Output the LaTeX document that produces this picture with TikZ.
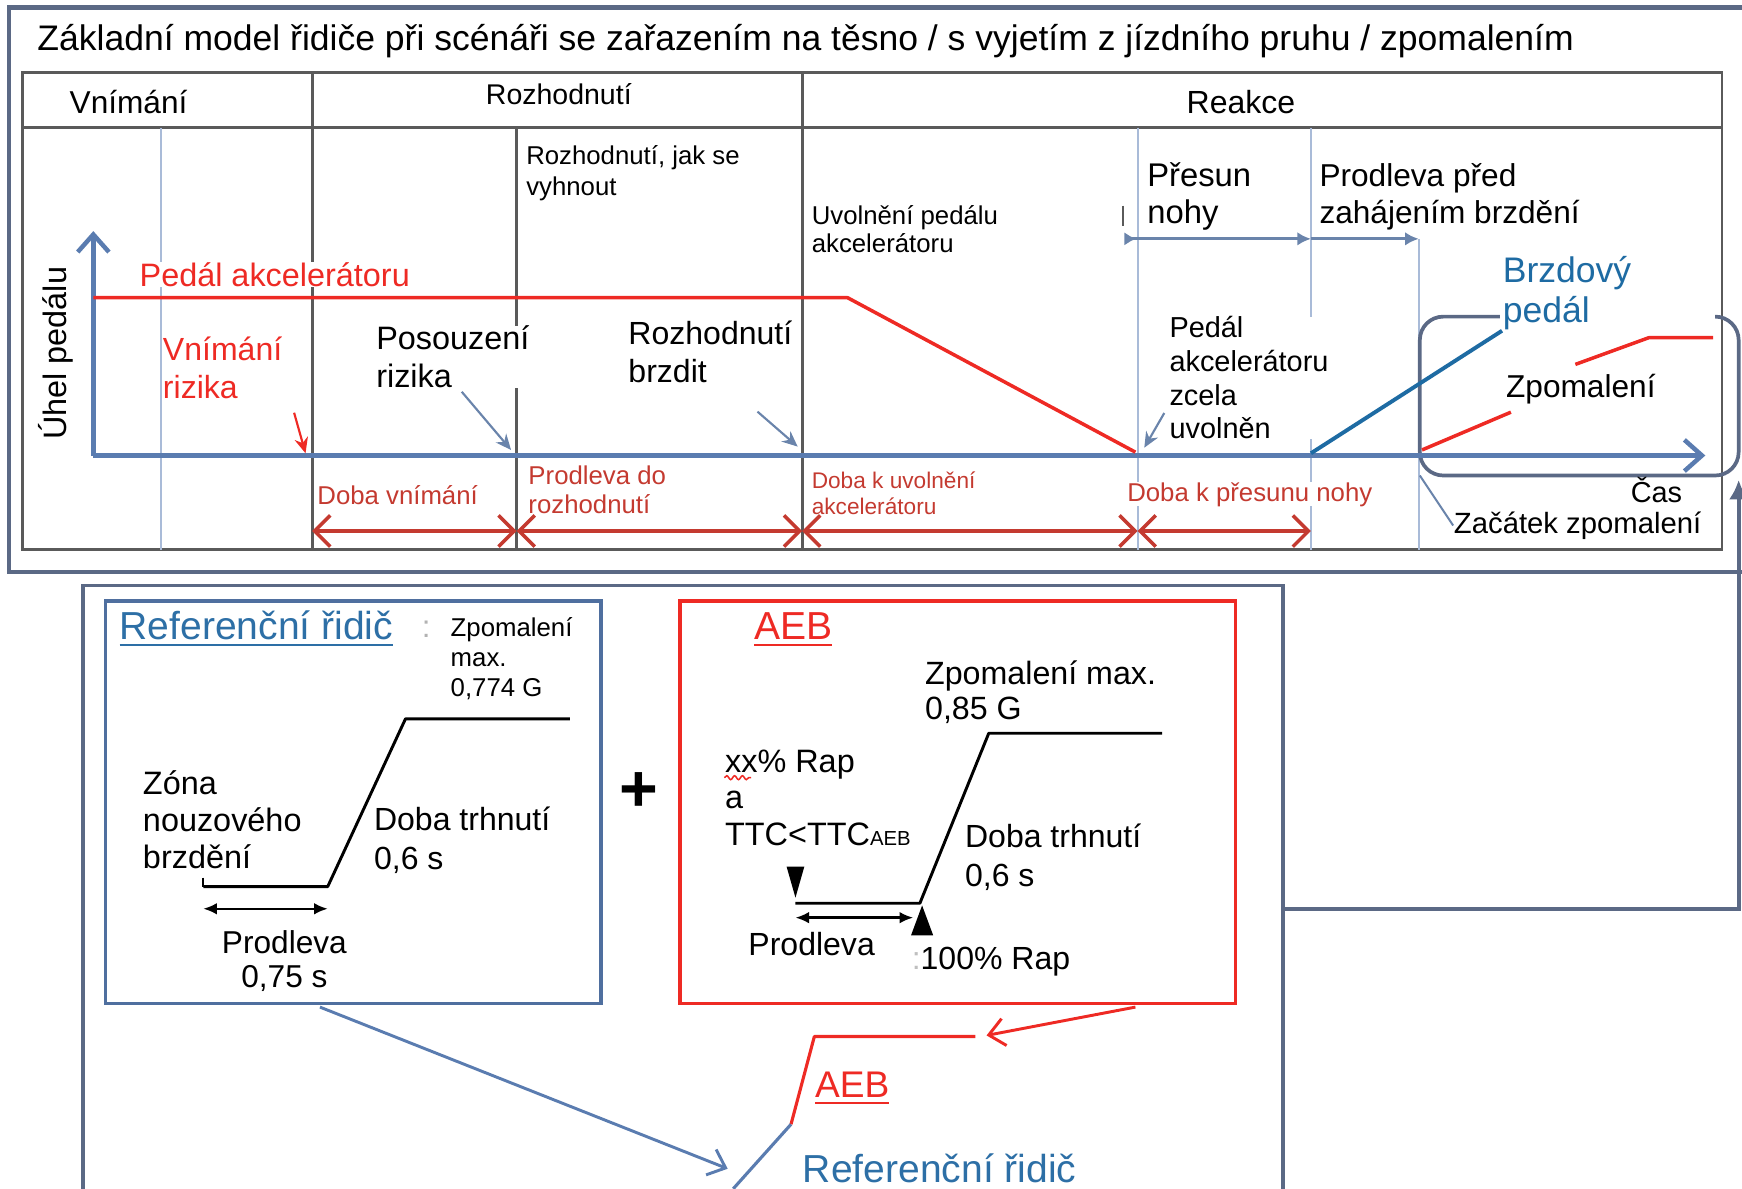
\documentclass[tikz,border=0pt]{standalone}
\usepackage{fontspec}
\setmainfont{Liberation Sans}
\usetikzlibrary{arrows.meta,calc,decorations.pathmorphing}

\definecolor{frameblue}{HTML}{5B6985}
\definecolor{tabgrey}{HTML}{5A5A5A}
\definecolor{sepblue}{HTML}{A9BBD8}
\definecolor{axisblue}{HTML}{5A7CB0}
\definecolor{ptrblue}{HTML}{6A84AB}
\definecolor{pedred}{HTML}{EE2A24}
\definecolor{durred}{HTML}{C43A30}
\definecolor{brakeblue}{HTML}{1E6BA3}
\definecolor{refblue}{HTML}{4F6F9F}
\definecolor{reftext}{HTML}{2D6FA6}

\newcommand\fsz[2]{\fontsize{#1pt}{#2pt}\selectfont}

\begin{document}
\begin{tikzpicture}[
  x=0.1mm, y=-0.1mm,
  lbl/.style={inner sep=0pt, anchor=west, align=left},
  wlbl/.style={lbl, fill=white},
  frm/.style={draw=frameblue, line width=0.95pt},
  grd/.style={draw=tabgrey, line width=0.75pt},
  sep/.style={draw=sepblue, line width=0.45pt},
  axis/.style={draw=axisblue, line width=1.15pt, -{Straight Barb[length=4.5pt,width=8pt]}},
  ptr/.style={draw=ptrblue, line width=0.55pt, -{Stealth[length=4pt,width=3.5pt]}},
  phase/.style={draw=ptrblue, line width=0.7pt, -{Latex[length=3.5pt,width=3.5pt]}},
  dur/.style={draw=durred, line width=0.9pt,
    {Straight Barb[length=4pt,width=8pt]}-{Straight Barb[length=4pt,width=8pt]}},
  pedal/.style={draw=pedred, line width=0.9pt, line join=round},
  profile/.style={draw=black, line width=0.75pt, line join=round},
  link/.style={line width=0.75pt, -{Straight Barb[length=4pt,width=7pt]}},
]
\useasboundingbox (0,0) rectangle (1568,1070);

% ---------------- upper panel: frame, title, table ----------------
\draw[frm, line width=1.2pt] (1568,7) -- (8,7) -- (8,515) -- (1568,515);
\node[lbl, font=\fsz{9.1}{10}] (title) at (33,37)
  {Základní model řidiče při scénáři se zařazením na těsno / s vyjetím z jízdního pruhu / zpomalením};

\draw[grd] (20,65) rectangle (1550,495);
\draw[grd] (20,115) -- (1550,115);
\foreach \x in {281,722} \draw[grd] (\x,65) -- (\x,495);
\draw[grd] (465,115) -- (465,495);
\foreach \x in {145,1024,1180} \draw[sep] (\x,115) -- (\x,495);
\draw[sep] (1277,215) -- (1277,495);

\node[lbl, font=\fsz{8.1}{9}] (hVn) at (62,92) {Vnímání};
\node[font=\fsz{7.3}{9}, inner sep=0pt] (hRo) at (503,85) {Rozhodnutí};
\node[font=\fsz{8.2}{9}, inner sep=0pt] (hRe) at (1117,92) {Reakce};

% ---------------- phase labels in the table ----------------
\node[lbl, font=\fsz{6.6}{8}] (jak) at (473,156) {Rozhodnutí, jak se\\vyhnout};
\node[lbl, font=\fsz{6.6}{7.1}] (uvol) at (730,206) {Uvolnění pedálu\\akcelerátoru};
\node[lbl, font=\fsz{8.4}{9.4}] (presun) at (1032,177) {Přesun\\nohy};
\node[lbl, font=\fsz{8.1}{9.4}] (prodl) at (1187,177) {Prodleva před\\zahájením brzdění};

\coordinate (m0) at (1012,215);
\coordinate (m1) at (1180,215);
\coordinate (m2) at (1277,215);
\draw[phase, {Latex[reversed,length=3pt,width=3.5pt]}-{Latex[length=3.5pt,width=3.5pt]}] (m0) -- (m1);
\draw[phase] (m1) -- (m2);
\draw[tabgrey, line width=0.5pt] (1011,185) -- (1011,203);

% ---------------- chart labels ----------------
\node[wlbl, text=pedred, font=\fsz{8.3}{9}] (accl) at (125,247) {Pedál akcelerátoru};
\node[lbl, text=pedred, font=\fsz{8.2}{9.7}] (vnr) at (146,331) {Vnímání\\rizika};
\node[wlbl, font=\fsz{8.3}{9.7}] (posr) at (338,321) {Posouzení\\rizika};
\node[lbl, font=\fsz{8.2}{9.7}] (rozb) at (565,317) {Rozhodnutí\\brzdit};
\node[wlbl, font=\fsz{7.4}{8.6}] (zcela) at (1052,340) {Pedál\\akcelerátoru\\zcela\\uvolněn};
\node[rotate=90, font=\fsz{8.3}{9}, inner sep=0pt] (uhel) at (50,318) {Úhel pedálu};

% deceleration frame (rounded), partly hidden by the brake label
\coordinate (rrBL) at (1278,428);
\coordinate (rrBR) at (1565,428);
\draw[frm, rounded corners=6pt] (1350,285) -- (1278,285) -- (rrBL) -- (rrBR) -- (1565,285) -- (1545,285);

\node[wlbl, text=brakeblue, font=\fsz{9.1}{10.2}] (brzd) at (1352,264) {Brzdový\\pedál};
\node[lbl, font=\fsz{8.1}{9}] (zpom) at (1355,350) {Zpomalení};
\node[font=\fsz{7.4}{8}, inner sep=0pt] (cas) at (1491,441) {Čas};
\node[lbl, font=\fsz{7.5}{8}] (zac) at (1308,473) {Začátek zpomalení};
\draw[ptrblue, line width=0.5pt] (rrBL) -- (zac.west);

% ---------------- axes and curves ----------------
\coordinate (O) at (84,410);
\draw[axis] (O) -- (84,208);
\draw[axis] (O) -- (1535,410);

\draw[pedal] (84,268) -- (763,268) -- (1022,407);
\draw[brakeblue, line width=1.0pt] (1180,408) -- (brzd.south west);
\draw[pedal] (1280,405) -- (1360,371);
\draw[pedal] (1418,328) -- (1484,304) -- (1542,304);

% pointers to the time axis
\coordinate (aVn) at (275,408);
\coordinate (aPo) at (460,405);
\coordinate (aRo) at (718,402);
\coordinate (aZc) at (1030,403);
\draw[pedred, line width=0.55pt, -{Stealth[length=4pt,width=3.5pt]}] ($(vnr.south east)+(10,12)$) -- (aVn);
\draw[ptr] ($(posr.south)+(8,3)$) -- (aPo);
\draw[ptr] ($(rozb.south east)+(-32,25)$) -- (aRo);
\draw[ptr] ($(zcela.south west)+(-4,-24)$) -- (aZc);

% ---------------- durations below the axis ----------------
\node[lbl, text=durred, font=\fsz{6.6}{7}] (dvn) at (285,446) {Doba vnímání};
\node[lbl, text=durred, font=\fsz{6.6}{7.4}] (dpr) at (475,441) {Prodleva do\\rozhodnutí};
\node[lbl, text=durred, font=\fsz{5.8}{6.8}] (duv) at (730,444) {Doba k uvolnění\\akcelerátoru};
\node[wlbl, text=durred, font=\fsz{6.6}{7}] (dpn) at (1014,445) {Doba k přesunu nohy};

\foreach \x [count=\i] in {281,465,722,1024,1180} \coordinate (d\i) at (\x,478);
\foreach \i/\j in {1/2,2/3,3/4,4/5} \draw[dur] (d\i) -- (d\j);

% ---------------- lower panel ----------------
\draw[frm] (75,1070) -- (75,527) -- (1155,527) -- (1155,1070);
\coordinate (fbR) at (1155,818);
\draw[frm, -{Latex[length=5pt,width=5pt]}] (fbR) -- (fbR -| rrBR) -- ($(rrBR)+(0,4)$);

% reference driver
\node[draw=refblue, line width=0.85pt, minimum width=4.46cm, minimum height=3.62cm, inner sep=0pt] (refbox) at (318,722) {};
\node[lbl, text=reftext, font=\fsz{10}{11}] (refT) at (107,566) {\underline{Referenční řidič}};
\node[lbl, text=gray!60, font=\fsz{8}{9}] (refC) at (379,566) {:};
\node[lbl, font=\fsz{6.6}{7.7}] (refMax) at (405,593) {Zpomalení\\max.\\0,774 G};
\draw[profile] (183,798) -- (295,798) -- (365,647) -- (513,647);
\draw[black, line width=0.6pt] (183,790) -- (183,798);
\node[lbl, font=\fsz{8.3}{9.4}] (refZona) at (128,738) {Zóna\\nouzového\\brzdění};
\node[lbl, font=\fsz{8.2}{10}] (refJerk) at (336,756) {Doba trhnutí\\0,6 s};
\coordinate (rp0) at (183,818);
\coordinate (rp1) at (295,818);
\draw[black, line width=0.6pt, {Latex[length=3.5pt,width=3pt]}-{Latex[length=3.5pt,width=3pt]}] (rp0) -- (rp1);
\node[font=\fsz{8.1}{8.8}, align=center, inner sep=0pt] (refDel) at (256,865) {Prodleva\\0,75 s};

\node[font=\bfseries\fsz{17}{18}, inner sep=0pt] (plus) at (575,713) {+};

% AEB
\node[draw=pedred, line width=0.85pt, minimum width=5.0cm, minimum height=3.62cm, inner sep=0pt] (aebbox) at (862,722) {};
\node[lbl, text=pedred, font=\fsz{10}{11}] (aebT) at (678,567) {\underline{AEB}};
\node[lbl, font=\fsz{8.25}{9.1}] (aebMax) at (832,623) {Zpomalení max.\\0,85 G};
\draw[profile] (716,813) -- (828,813) -- (890,660) -- (1046,660);
\node[lbl, font=\fsz{8.3}{9.4}] (aebTrig) at (652,718) {xx\% Rap\\a\\TTC<TTC{\fsz{5.2}{6}AEB}};
\draw[pedred, line width=0.4pt, decorate, decoration={snake, amplitude=0.5pt, segment length=2pt}] (652,700) -- (676,700);
\fill (708,780) -- (724,780) -- (716,808) -- cycle;
\fill (820,842) -- (840,842) -- (830,815) -- cycle;
\coordinate (ap0) at (716,826);
\coordinate (ap1) at (822,826);
\draw[black, line width=0.6pt, {Latex[length=3.5pt,width=3pt]}-{Latex[length=3.5pt,width=3pt]}] (ap0) -- (ap1);
\node[lbl, font=\fsz{8.2}{9}] (aebDel) at (673,850) {Prodleva};
\node[lbl, font=\fsz{8.2}{9}] (aebFull) at (820,866) {\textcolor{gray!50}{:}100\% Rap};
\node[lbl, font=\fsz{8.2}{10}] (aebJerk) at (868,772) {Doba trhnutí\\0,6 s};

% combined profile
\coordinate (refEnd) at (655,1052);
\coordinate (aebEnd) at (888,932);
\draw[link, draw=axisblue] ($(refbox.south)+(-30,2)$) -- (refEnd);
\draw[link, draw=pedred] ($(aebbox.south)+(160,2)$) -- (aebEnd);
\draw[pedred, line width=0.8pt, line join=round] (878,933) -- (733,933) -- (712,1012);
\draw[axisblue, line width=0.8pt] (712,1012) -- (660,1070);
\node[lbl, text=pedred, font=\fsz{9.5}{10}] (cmbA) at (733,980) {\underline{AEB}};
\node[lbl, text=reftext, font=\fsz{10}{11}] (cmbR) at (722,1052) {Referenční řidič};

\end{tikzpicture}
\end{document}
